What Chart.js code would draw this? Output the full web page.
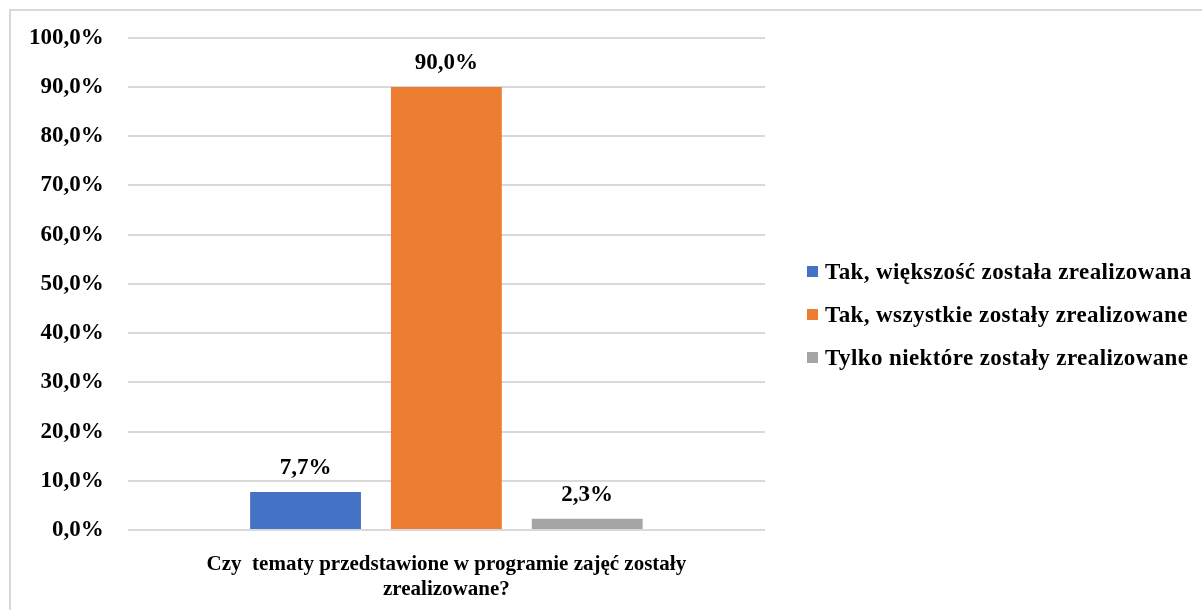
<!DOCTYPE html>
<html>
<head>
<meta charset="utf-8">
<script src="https://cdn.jsdelivr.net/npm/chart.js@4.4.1/dist/chart.umd.min.js"></script>
<style>
    html, body { margin: 0; padding: 0; background: #ffffff; }
    #wrap { position: relative; width: 1202px; height: 610px; overflow: hidden; }
    #frame {
        position: absolute; left: 9px; top: 9px; width: 1220px; height: 640px;
        border: 2px solid #d9d9d9; pointer-events: none;
    }
    canvas { position: absolute; left: 0; top: 0; }
    #legend {
        position: absolute; left: 807px; top: 250px;
        font-family: 'Liberation Serif', 'Times New Roman', serif;
        font-weight: bold; font-size: 23px; letter-spacing: 0.4px; color: #000000;
        white-space: nowrap;
    }
    .legendRow { height: 43px; line-height: 43px; display: flex; align-items: center; }
    .legendBox { width: 11px; height: 11px; margin-right: 7px; flex: none; }
</style>
</head>
<body>
<div id="wrap">
    <canvas id="mainChart" width="1202" height="610"></canvas>
    <div id="legend"></div>
    <div id="frame"></div>
</div>
<script>
const categories = [""];
const seriesNames = [
    "Tak, większość została zrealizowana",
    "Tak, wszystkie zostały zrealizowane",
    "Tylko niektóre zostały zrealizowane"
];
const seriesValues = [7.7, 90.0, 2.3];
const seriesColors = ["#4472C4", "#ED7D31", "#A5A5A5"];
const axisTitle = ["Czy  tematy przedstawione w programie zajęć zostały", "zrealizowane?"];

const fontFamily = "'Liberation Serif', 'Times New Roman', serif";

function formatPercent(value) {
    return value.toFixed(1).replace(".", ",") + "%";
}

const valueLabels = {
    id: "valueLabels",
    afterDatasetsDraw(chart) {
        const ctx = chart.ctx;
        ctx.save();
        ctx.font = "bold 23px " + fontFamily;
        ctx.fillStyle = "#000000";
        ctx.textAlign = "center";
        ctx.textBaseline = "middle";
        chart.data.datasets.forEach(function(dataset, i) {
            const meta = chart.getDatasetMeta(i);
            meta.data.forEach(function(bar, j) {
                ctx.fillText(formatPercent(dataset.data[j]), bar.x, bar.y - 24);
            });
        });
        ctx.restore();
    }
};

let datasets = [];
for (let i = 0; i < seriesNames.length; i++) {
    datasets.push({
        label: seriesNames[i],
        data: [seriesValues[i]],
        backgroundColor: seriesColors[i],
        categoryPercentage: 0.663,
        barPercentage: 0.787
    });
}

// legend built as html so it can be wider than chart.js allows on the right
const legendEl = document.getElementById("legend");
for (let i = 0; i < seriesNames.length; i++) {
    const row = document.createElement("div");
    row.className = "legendRow";
    const box = document.createElement("span");
    box.className = "legendBox";
    box.style.background = seriesColors[i];
    const text = document.createElement("span");
    text.textContent = seriesNames[i];
    row.appendChild(box);
    row.appendChild(text);
    legendEl.appendChild(row);
}

new Chart(document.getElementById("mainChart").getContext("2d"), {
    type: "bar",
    data: {
        labels: categories,
        datasets: datasets
    },
    options: {
        responsive: false,
        animation: false,
        layout: {
            padding: { left: 5, top: 37, right: 437, bottom: 8 }
        },
        plugins: {
            tooltip: { enabled: false },
            legend: { display: false }
        },
        scales: {
            x: {
                grid: { display: false },
                border: { display: false },
                ticks: { display: false },
                title: {
                    display: true,
                    text: axisTitle,
                    color: "#000000",
                    font: { family: fontFamily, size: 21, weight: "bold", lineHeight: 1.19 },
                    padding: { top: 14, bottom: 0 }
                }
            },
            y: {
                min: 0,
                max: 100,
                ticks: {
                    stepSize: 10,
                    color: "#000000",
                    padding: 24,
                    font: { family: fontFamily, size: 23, weight: "bold" },
                    callback: function(value) {
                        return formatPercent(value);
                    }
                },
                grid: {
                    color: "#d9d9d9",
                    lineWidth: 2,
                    drawTicks: false
                },
                border: { display: false }
            }
        }
    },
    plugins: [valueLabels]
});
</script>
</body>
</html>
